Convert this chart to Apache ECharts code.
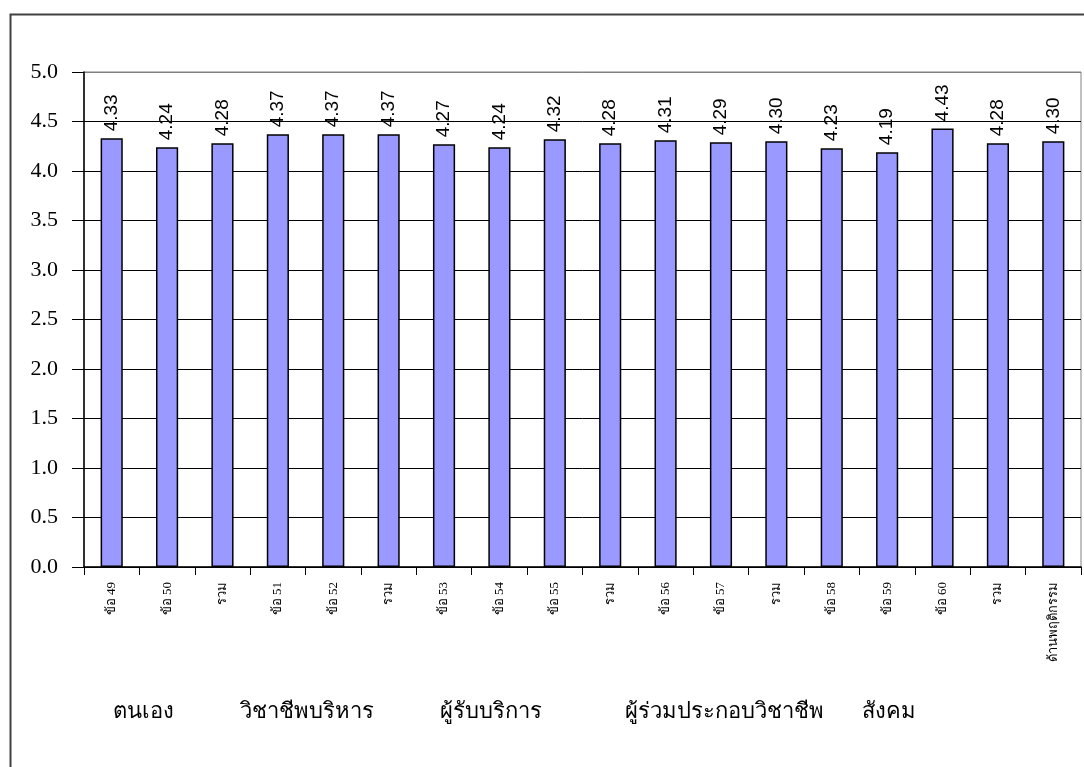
<!DOCTYPE html>
<html><head><meta charset="utf-8">
<script src="https://cdn.jsdelivr.net/npm/echarts@6/dist/echarts.min.js"></script>
<style>html,body{margin:0;padding:0;background:#fff}#c{width:1084px;height:767px}</style>
</head><body><div id="c"></div>
<script>
var categories = ['ข้อ 49','ข้อ 50','รวม','ข้อ 51','ข้อ 52','รวม','ข้อ 53','ข้อ 54','ข้อ 55','รวม','ข้อ 56','ข้อ 57','รวม','ข้อ 58','ข้อ 59','ข้อ 60','รวม','ด้านพฤติกรรม'];
var values = [4.33,4.24,4.28,4.37,4.37,4.37,4.27,4.24,4.32,4.28,4.31,4.29,4.30,4.23,4.19,4.43,4.28,4.30];
var groupLabels = ['ตนเอง','วิชาชีพบริหาร','ผู้รับบริการ','ผู้ร่วมประกอบวิชาชีพ','สังคม'];
var groupLabelLeft = [113,240,440,625,862];

var serif = "'Liberation Serif','DejaVu Serif',serif";
var chart = echarts.init(document.getElementById('c'));
var splitColors = [];
for (var i = 0; i < 10; i++) splitColors.push('#000');
splitColors.push('#808080');

chart.setOption({
  animation: false,
  backgroundColor: '#fff',
  grid: {left: 84, right: 3, top: 72, bottom: 200, show: true, borderColor: '#808080', borderWidth: 1, backgroundColor: 'transparent'},
  xAxis: {
    type: 'category', data: categories, boundaryGap: true,
    axisLine: {lineStyle: {color: '#000', width: 1.5}},
    axisTick: {show: true, length: 8, lineStyle: {color: '#000'}, alignWithLabel: false},
    axisLabel: {rotate: 90, margin: 15, fontFamily: serif, fontSize: 13, color: '#000', interval: 0}
  },
  yAxis: {
    type: 'value', min: 0, max: 5, interval: 0.5,
    axisLine: {show: true, lineStyle: {color: '#000', width: 1.5}},
    axisTick: {show: true, length: 12, lineStyle: {color: '#000'}},
    axisLabel: {fontFamily: serif, fontSize: 22, color: '#000', margin: 26, formatter: function(v){return v.toFixed(1);}},
    splitLine: {show: true, lineStyle: {color: splitColors, width: 1}}
  },
  series: [{
    type: 'bar', data: values, barWidth: '40%',
    itemStyle: {color: '#9999FF', borderColor: '#000', borderWidth: 1.5},
    label: {show: true, position: 'top', rotate: 90, align: 'left', verticalAlign: 'middle', distance: 7,
      fontFamily: "'Liberation Sans',Arial,sans-serif", fontSize: 19, color: '#000',
      formatter: function(p){return p.value.toFixed(2);}}
  }],
  graphic: [
    {type: 'rect', left: 8, top: 12, shape: {width: 1200, height: 900}, style: {fill: 'none', stroke: '#404040', lineWidth: 2}, silent: true, z: -1}
  ].concat(groupLabels.map(function(t, i){
    return {type: 'text', left: groupLabelLeft[i], top: 701, style: {text: t, font: '22px ' + serif, fill: '#000'}};
  }))
});
</script></body></html>
